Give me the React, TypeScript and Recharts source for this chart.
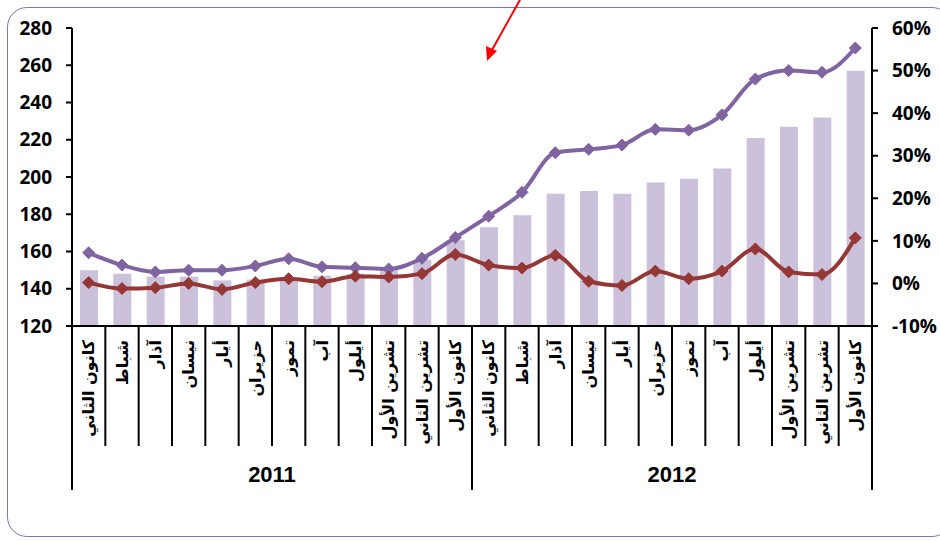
import { ComposedChart, Bar, Line, XAxis, YAxis } from 'recharts';

const months = ['كانون الثاني', 'شباط', 'آذار', 'نيسان', 'أيار', 'حزيران', 'تموز', 'آب', 'أيلول', 'تشرين الأول', 'تشرين الثاني', 'كانون الأول'];
const years = ['2011', '2012'];

// index level (left axis)
const indexValues = [150, 148, 146.5, 146.5, 144.5, 145, 146, 147, 148, 150, 155.5, 166, 173, 179.5, 191, 192.5, 191, 197, 199, 204.5, 221, 227, 232, 257];
// yearly change, % (right axis)
const yearlyChange = [7.2, 4.3, 2.7, 3.1, 3.1, 4.1, 5.8, 3.9, 3.7, 3.4, 5.9, 10.8, 15.8, 21.4, 30.7, 31.5, 32.5, 36.2, 36.0, 39.6, 48.0, 50.0, 49.6, 55.3];
// monthly change, % (right axis)
const monthlyChange = [0.2, -1.2, -1.0, 0.0, -1.4, 0.2, 1.1, 0.4, 1.7, 1.5, 2.3, 6.8, 4.3, 3.6, 6.6, 0.5, -0.5, 2.9, 1.1, 2.9, 8.1, 2.7, 2.1, 10.7];

const leftTicks = [120, 140, 160, 180, 200, 220, 240, 260, 280];
const rightTicks = [-10, 0, 10, 20, 30, 40, 50, 60];

const data = indexValues.map((v, i) => ({
    idx: i,
    month: months[i % 12],
    year: years[Math.floor(i / 12)],
    index: v,
    yearly: yearlyChange[i],
    monthly: monthlyChange[i],
}));

const W = 940;
const H = 541;
const PLOT_LEFT = 72;
const PLOT_RIGHT = 872;
const PLOT_TOP = 28;
const PLOT_BOTTOM = 326;
const band = (PLOT_RIGHT - PLOT_LEFT) / data.length;

const Diamond = (color: string) => (props: any) => {
    const { cx, cy } = props;
    if (cx == null || cy == null) return null;
    const r = 6;
    return (
        <polygon
            key={`d-${cx}`}
            points={`${cx},${cy - r} ${cx + r},${cy} ${cx},${cy + r} ${cx - r},${cy}`}
            fill={color}
            stroke={color}
        />
    );
};

const MonthTick = (props: any) => {
    const { x, payload } = props;
    const i = payload.index ?? payload.value;
    const row = data[i];
    const left = x - band / 2;
    const isYearStart = i % 12 === 0;
    const labelTop = PLOT_BOTTOM + 14;
    return (
        <g>
            <line x1={left} y1={PLOT_BOTTOM} x2={left} y2={isYearStart ? 490 : 446} stroke="#000" strokeWidth={2} />
            {i === data.length - 1 && (
                <line x1={x + band / 2} y1={PLOT_BOTTOM} x2={x + band / 2} y2={490} stroke="#000" strokeWidth={2} />
            )}
            <text
                x={x}
                y={labelTop}
                transform={`rotate(-90, ${x}, ${labelTop})`}
                textAnchor="end"
                dominantBaseline="central"
                fontFamily="DejaVu Sans"
                fontWeight="bold"
                fontSize={16}
                fill="#000"
            >
                {row.month}
            </text>
            {i % 12 === 6 && (
                <text
                    x={left}
                    y={482}
                    textAnchor="middle"
                    fontFamily="Liberation Sans"
                    fontWeight="bold"
                    fontSize={22}
                    fill="#000"
                >
                    {row.year}
                </text>
            )}
        </g>
    );
};

const tickStyle = { fontFamily: 'Open Sans', fontWeight: 700, fontSize: 19, fill: '#000' };

export default function App() {
    return (
        <div style={{ position: 'fixed', left: 0, top: 0, width: W, height: H, background: '#fff' }}>
            <div
                style={{
                    position: 'absolute',
                    left: 7,
                    top: 7,
                    width: 945,
                    height: 530,
                    border: '1.5px solid #8A72B0',
                    borderRadius: 20,
                    boxSizing: 'border-box',
                }}
            />
            <ComposedChart
                width={W}
                height={H}
                data={data}
                margin={{ top: PLOT_TOP, right: 0, left: 0, bottom: 0 }}
                barSize={18}
                style={{ position: 'absolute', left: 0, top: 0 }}
            >
                <XAxis
                    dataKey="idx"
                    type="category"
                    interval={0}
                    height={H - PLOT_BOTTOM}
                    axisLine={{ stroke: '#000', strokeWidth: 2 }}
                    tickLine={false}
                    tick={<MonthTick />}
                />
                <YAxis
                    yAxisId="left"
                    orientation="left"
                    width={PLOT_LEFT}
                    domain={[120, 280]}
                    ticks={leftTicks}
                    axisLine={{ stroke: '#000', strokeWidth: 2 }}
                    tickLine={{ stroke: '#000', strokeWidth: 2 }}
                    tickSize={6}
                    tickMargin={14}
                    tick={tickStyle}
                />
                <YAxis
                    yAxisId="right"
                    orientation="right"
                    width={W - PLOT_RIGHT}
                    domain={[-10, 60]}
                    ticks={rightTicks}
                    tickFormatter={(v: number) => `${v}%`}
                    axisLine={{ stroke: '#000', strokeWidth: 2 }}
                    tickLine={{ stroke: '#000', strokeWidth: 2 }}
                    tickSize={6}
                    tickMargin={14}
                    tick={tickStyle}
                />
                <Bar yAxisId="left" dataKey="index" fill="#CCC1DA" isAnimationActive={false} />
                <Line
                    yAxisId="right"
                    type="monotone"
                    dataKey="yearly"
                    stroke="#8064A2"
                    strokeWidth={4}
                    dot={Diamond('#8064A2')}
                    activeDot={false}
                    isAnimationActive={false}
                />
                <Line
                    yAxisId="right"
                    type="monotone"
                    dataKey="monthly"
                    stroke="#953735"
                    strokeWidth={4}
                    dot={Diamond('#953735')}
                    activeDot={false}
                    isAnimationActive={false}
                />
            </ComposedChart>
            <svg width={W} height={H} style={{ position: 'absolute', left: 0, top: 0, pointerEvents: 'none' }}>
                <line x1={521} y1={-2} x2={492} y2={50} stroke="#FF0000" strokeWidth={2} />
                <polygon points="487,61 486,46 497,51" fill="#FF0000" />
            </svg>
        </div>
    );
}
